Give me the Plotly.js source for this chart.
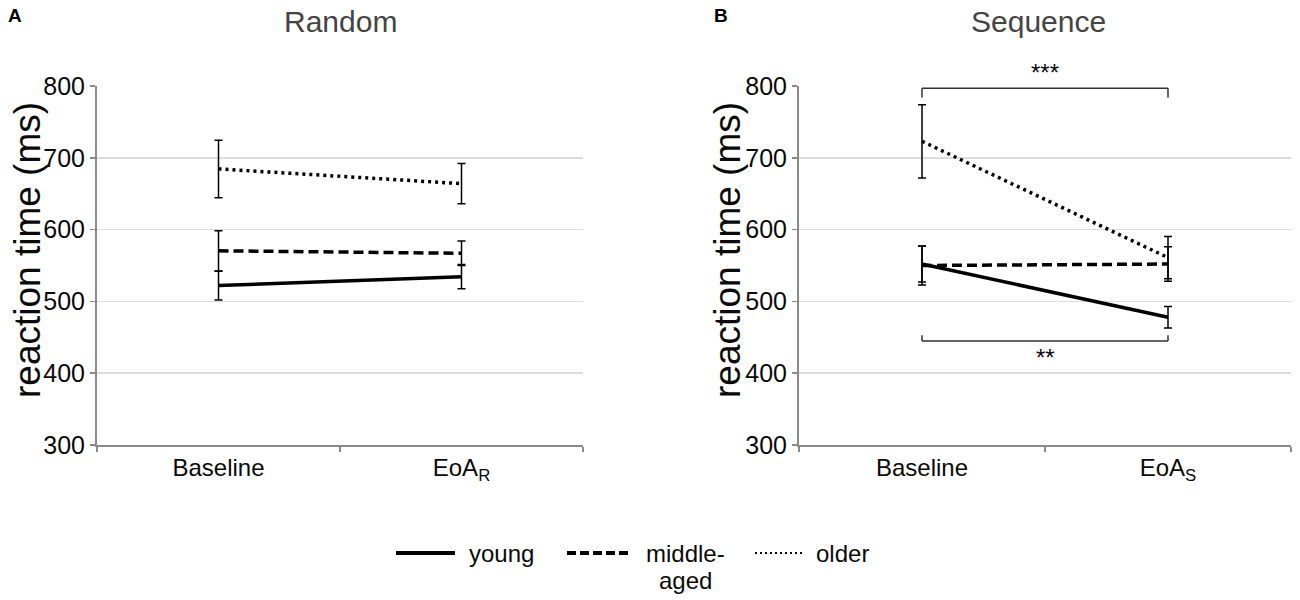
<!DOCTYPE html>
<html>
<head>
<meta charset="utf-8">
<script src="https://cdn.plot.ly/plotly-3.0.1.min.js"></script>
<style>html,body{margin:0;padding:0;background:#fff;}#chart{width:1300px;height:600px;}</style>
</head>
<body>
<div id="chart"></div>
<script>
// ---- data ----
const conditionsRandom = ['Baseline', 'EoA<sub>R</sub>'];
const conditionsSequence = ['Baseline', 'EoA<sub>S</sub>'];
const groups = ['young', 'middle-aged', 'older'];

const randomYoung = [522, 534.5];
const randomYoungErr = [20, 17];
const randomMiddle = [570.5, 567];
const randomMiddleErr = [28, 17];
const randomOlder = [684.5, 664];
const randomOlderErr = [40, 28];

const seqYoung = [552, 478];
const seqYoungErr = [25, 15];
const seqMiddle = [550, 552];
const seqMiddleErr = [27, 24];
const seqOlder = [723, 561];
const seqOlderErr = [51, 29.5];

const yTicks = [300, 400, 500, 600, 700, 800];

// ---- styles ----
const FONT = 'Liberation Sans, Arial, sans-serif';
const TXT = '#0a0a0a';
const lineStyles = {
  'young': {color: '#000', width: 3.5, dash: 'solid'},
  'middle-aged': {color: '#000', width: 3.5, dash: '10px,5px'},
  'older': {color: '#000', width: 3.5, dash: '3px,4px'}
};

function series(x, y, err, name, xa, ya) {
  return {
    type: 'scatter', mode: 'lines', x: x, y: y, name: name,
    xaxis: xa, yaxis: ya, showlegend: false,
    line: lineStyles[name],
    error_y: {type: 'data', array: err, visible: true, color: '#000', thickness: 1.5, width: 4},
    hoverinfo: 'x+y+name'
  };
}

const traces = [
  series(conditionsRandom, randomYoung, randomYoungErr, groups[0], 'x', 'y'),
  series(conditionsRandom, randomMiddle, randomMiddleErr, groups[1], 'x', 'y'),
  series(conditionsRandom, randomOlder, randomOlderErr, groups[2], 'x', 'y'),
  series(conditionsSequence, seqYoung, seqYoungErr, groups[0], 'x2', 'y2'),
  series(conditionsSequence, seqMiddle, seqMiddleErr, groups[1], 'x2', 'y2'),
  series(conditionsSequence, seqOlder, seqOlderErr, groups[2], 'x2', 'y2')
];

const W = 1300, H = 600;
const px = v => v / W;
const py = v => 1 - v / H;

function xAxis(domain, anchor) {
  return {
    domain: domain, anchor: anchor, type: 'category', range: [-0.5, 1.5],
    tickson: 'boundaries', ticks: 'outside', ticklen: 5, tickwidth: 1.5, tickcolor: '#8a8a8a',
    showline: true, linecolor: '#8a8a8a', linewidth: 2, showgrid: false, zeroline: false,
    tickfont: {family: FONT, size: 24, color: TXT}, fixedrange: true
  };
}
function yAxis(anchor) {
  return {
    domain: [py(445), py(86)], anchor: anchor, range: [300, 800], tickvals: yTicks,
    ticks: 'outside', ticklen: 5, tickwidth: 1.5, tickcolor: '#8a8a8a',
    showline: true, linecolor: '#8a8a8a', linewidth: 2,
    showgrid: true, gridcolor: '#dcdcdc', gridwidth: 1.5, zeroline: false,
    tickfont: {family: FONT, size: 25, color: TXT}, fixedrange: true
  };
}

const bracketColor = '#333';
const shapes = [];
function bracket(yLine, yEnd) {
  const common = {type: 'line', xref: 'x2', yref: 'y2', line: {color: bracketColor, width: 1.5}};
  shapes.push(Object.assign({x0: 0, x1: 1, y0: yLine, y1: yLine}, common));
  shapes.push(Object.assign({x0: 0, x1: 0, y0: yLine, y1: yEnd}, common));
  shapes.push(Object.assign({x0: 1, x1: 1, y0: yLine, y1: yEnd}, common));
}
bracket(797, 784);
bracket(445, 453);

// custom legend (longer line samples, two-line label)
const legendY = py(553);
const legendItems = [
  {name: 'young', x0: 396, x1: 455, dash: 'solid', width: 4},
  {name: 'middle-aged', x0: 567, x1: 630, dash: '9px,4px', width: 4},
  {name: 'older', x0: 755, x1: 803, dash: '2px,3px', width: 2.2}
];
legendItems.forEach(it => {
  shapes.push({type: 'line', xref: 'paper', yref: 'paper', x0: px(it.x0), x1: px(it.x1),
    y0: legendY, y1: legendY, line: {color: '#000', width: it.width, dash: it.dash}});
});

const annotations = [
  {text: '<b>A</b>', x: px(6), y: py(16), xanchor: 'left', font: {size: 19, color: '#000'}},
  {text: '<b>B</b>', x: px(712), y: py(16), xanchor: 'left', font: {size: 19, color: '#000'}},
  {text: 'Random', x: px(340), y: py(21), font: {size: 30, color: '#444'}},
  {text: 'Sequence', x: px(1038), y: py(21), font: {size: 30, color: '#444'}},
  {text: 'reaction time (ms)', x: px(27), y: py(250), textangle: -90, font: {size: 37, color: TXT}},
  {text: 'reaction time (ms)', x: px(727), y: py(250), textangle: -90, font: {size: 37, color: TXT}},
  {text: '***', xref: 'x2', x: 0.5, y: py(72), font: {size: 24, color: TXT}},
  {text: '**', xref: 'x2', x: 0.5, y: py(357), font: {size: 24, color: TXT}},
  {text: 'young', x: px(467), y: legendY, xanchor: 'left', font: {size: 24, color: TXT}},
  {text: 'middle-', x: px(685), y: legendY, font: {size: 24, color: TXT}},
  {text: 'aged', x: px(685), y: py(580), font: {size: 24, color: TXT}},
  {text: 'older', x: px(814), y: legendY, xanchor: 'left', font: {size: 24, color: TXT}}
].map(a => Object.assign({xref: 'paper', yref: 'paper', showarrow: false, xanchor: 'center', yanchor: 'middle'}, a,
  {font: Object.assign({family: FONT}, a.font)}));

const layout = {
  width: W, height: H,
  margin: {l: 0, r: 0, t: 0, b: 0},
  paper_bgcolor: '#fff', plot_bgcolor: '#fff',
  font: {family: FONT},
  showlegend: false,
  xaxis: xAxis([px(97), px(583)], 'y'),
  yaxis: yAxis('x'),
  xaxis2: xAxis([px(799), px(1291)], 'y2'),
  yaxis2: yAxis('x2'),
  shapes: shapes,
  annotations: annotations
};

Plotly.newPlot('chart', traces, layout, {displayModeBar: false, staticPlot: true});
</script>
</body>
</html>
